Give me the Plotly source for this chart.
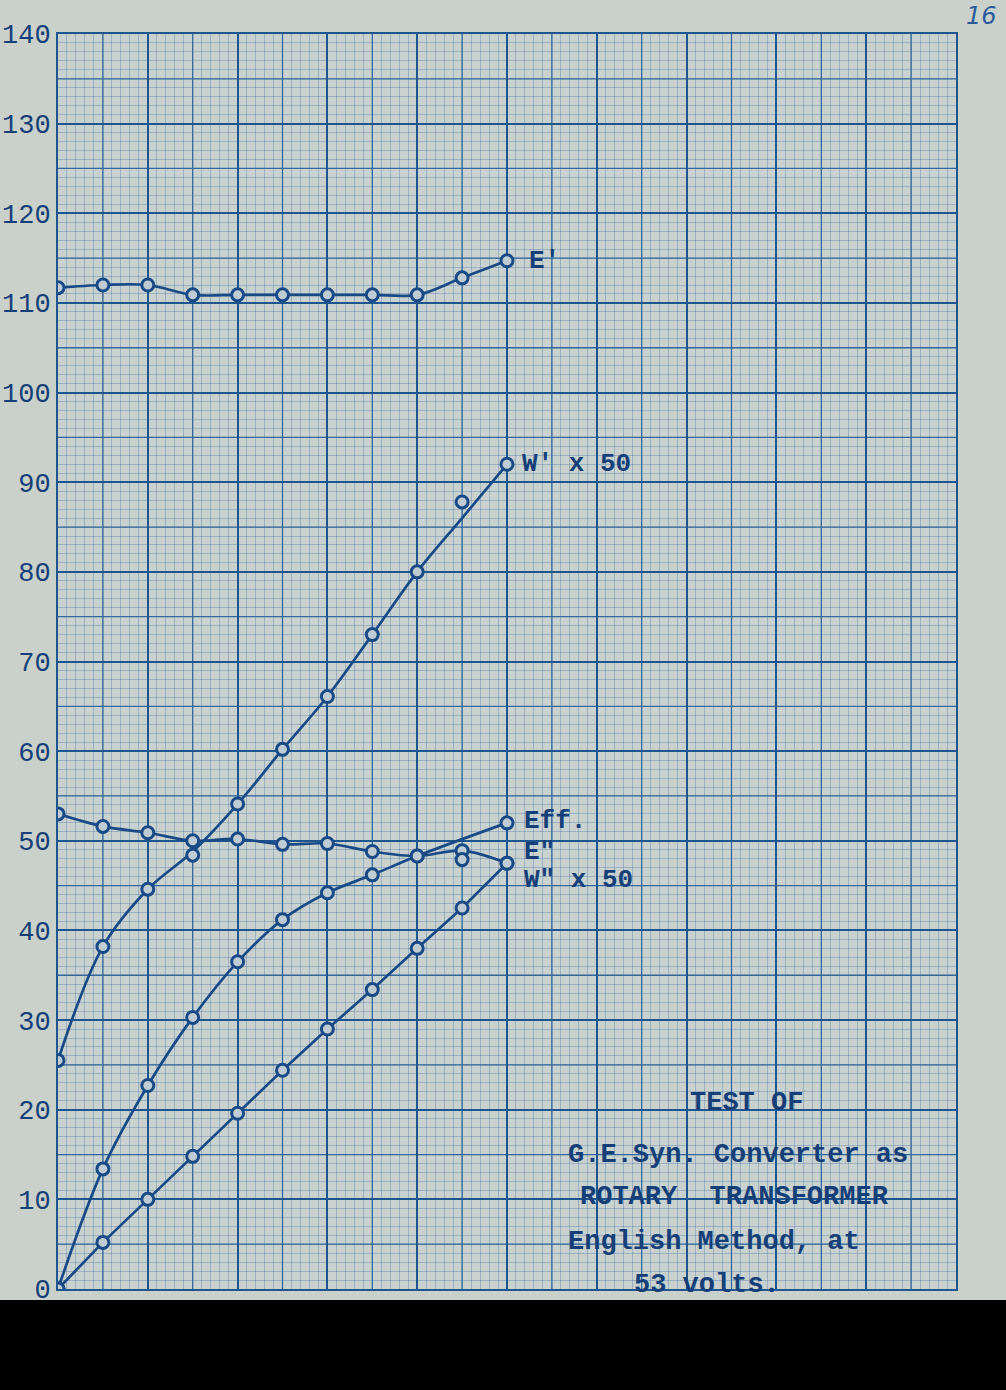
import plotly.graph_objects as go

# ---------------- data ----------------
load = [0, 1, 2, 3, 4, 5, 6, 7, 8, 9, 10]

e_prime = [111.7, 112.0, 112.0, 110.9, 110.9, 110.9, 110.9, 110.9, 110.9, 112.8, 114.7]

w_prime_x50 = [25.5, 38.2, 44.6, 48.4, 54.1, 60.2, 66.1, 73.0, 80.0, 87.8, 92.0]
w_prime_curve = [25.5, 38.2, 44.6, 48.8, 54.1, 60.2, 66.1, 73.0, 80.0, 86.0, 92.0]

eff_load = [0, 1, 2, 3, 4, 5, 6, 7, 8, 10]
eff = [0.0, 13.4, 22.7, 30.3, 36.5, 41.2, 44.2, 46.2, 48.3, 52.0]

e_dbl = [53.0, 51.6, 50.9, 50.0, 50.2, 49.6, 49.7, 48.8, 48.3, 48.9, 47.5]
e_dbl_extra_load = [9]
e_dbl_extra = [47.9]

w_dbl_x50 = [0.0, 5.2, 10.0, 14.8, 19.6, 24.4, 29.0, 33.4, 38.0, 42.5, 47.5]

y_ticks = [0, 10, 20, 30, 40, 50, 60, 70, 80, 90, 100, 110, 120, 130, 140]
y_tick_text = ["0", "10", "20", "30", "40", "50", "60", "70", "80", "90",
               "100", "110", "120", "130", "140"]

curve_labels = ["E'", "W' x 50", "Eff.", 'E"', 'W" x 50']
curve_label_x = [10.45, 10.3, 10.33, 10.33, 10.33]
curve_label_y = [114.7, 92.0, 52.2, 48.8, 45.6]

note_lines = ["TEST OF", "G.E.Syn. Converter as", "ROTARY  TRANSFORMER",
              "English Method, at", "53 volts."]
note_x = [14.03, 11.31, 11.58, 11.31, 12.78]
note_y = [20.8, 15.0, 10.3, 5.2, 0.5]

# ---------------- styling ----------------
INK = "#1a4a86"
TXT = "#163f78"
PAPER = "#c9d1ca"
PLOTBG = "#c9d2cf"
MARK_FILL = "#c0ccd3"
MONO = "Liberation Mono"

fig = go.Figure()


def add_curve(x, y, shape):
    fig.add_trace(go.Scatter(x=x, y=y, mode="lines",
                             line=dict(color=INK, width=2.7, shape=shape, smoothing=1.0),
                             hoverinfo="skip", showlegend=False))


def add_points(x, y):
    fig.add_trace(go.Scatter(x=x, y=y, mode="markers",
                             marker=dict(symbol="circle", size=12, color=MARK_FILL,
                                         line=dict(color=INK, width=3)),
                             showlegend=False))


add_curve(load, e_prime, "spline")
add_points(load, e_prime)

add_curve(load, w_prime_curve, "spline")
add_points(load, w_prime_x50)

add_curve(eff_load, eff, "spline")
add_points(eff_load, eff)

add_curve(load, e_dbl, "spline")
add_points(load, e_dbl)
add_points(e_dbl_extra_load, e_dbl_extra)

add_curve(load, w_dbl_x50, "linear")
add_points(load, w_dbl_x50)

# medium (every 5 units / every half-major) grid lines
MED = "#2f6699"
shapes = []
for xv in range(1, 20, 2):
    shapes.append(dict(type="line", xref="x", yref="y", x0=xv, x1=xv, y0=0, y1=140,
                       line=dict(color=MED, width=1.3), layer="below"))
for yv in range(5, 140, 10):
    shapes.append(dict(type="line", xref="x", yref="y", x0=0, x1=20, y0=yv, y1=yv,
                       line=dict(color=MED, width=1.3), layer="below"))

# black band at the bottom of the scan
ph = 1255.0
pw = 898.0
shapes.append(dict(type="rect", xref="paper", yref="paper",
                   x0=-58 / pw, x1=(1006 - 58) / pw,
                   y0=-(1390 - 1289) / ph, y1=-(1300 - 1289) / ph,
                   fillcolor="#000000", line=dict(width=0), layer="above"))

annotations = []
for t, x, y in zip(curve_labels, curve_label_x, curve_label_y):
    annotations.append(dict(x=x, y=y, xref="x", yref="y", text="<b>" + t + "</b>",
                            showarrow=False, xanchor="left", yanchor="middle",
                            font=dict(family=MONO, size=26, color=TXT)))
for t, x, y in zip(note_lines, note_x, note_y):
    annotations.append(dict(x=x, y=y, xref="x", yref="y", text="<b>" + t + "</b>",
                            showarrow=False, xanchor="left", yanchor="middle",
                            font=dict(family=MONO, size=27, color=TXT)))
annotations.append(dict(x=(999 - 58) / pw, y=1 + (34 - 0) / ph, xref="paper", yref="paper",
                        text="<i>16</i>", showarrow=False,
                        xanchor="right", yanchor="top",
                        font=dict(family="DejaVu Sans", size=24, color="#2a5a9a")))

GRID_MINOR = dict(showgrid=True, gridcolor="rgba(60,110,165,0.33)", gridwidth=0.7)

fig.update_layout(
    width=1006, height=1390,
    margin=dict(l=58, r=50, t=34, b=101, autoexpand=False),
    paper_bgcolor=PAPER, plot_bgcolor=PLOTBG,
    shapes=shapes, annotations=annotations,
    xaxis=dict(range=[0, 20], dtick=2, showticklabels=False, ticks="",
               showgrid=True, gridcolor="#1f5690", gridwidth=2, automargin=False,
               zeroline=False, showline=True, linecolor="#1f5690", linewidth=2,
               mirror=True, fixedrange=True,
               minor=dict(dtick=0.2, **GRID_MINOR)),
    yaxis=dict(range=[0, 140], tickvals=y_ticks, ticktext=y_tick_text, ticks="",
               tickfont=dict(family=MONO, size=27, color=TXT), automargin=False,
               showgrid=True, gridcolor="#1f5690", gridwidth=2,
               zeroline=False, showline=True, linecolor="#1f5690", linewidth=2,
               mirror=True, fixedrange=True,
               minor=dict(dtick=1, **GRID_MINOR)),
)

fig.update_yaxes(tickprefix="<b>", ticksuffix="</b>")

fig.write_html("out.html", config={"displayModeBar": False},
               post_script="document.body.style.margin='0';")
